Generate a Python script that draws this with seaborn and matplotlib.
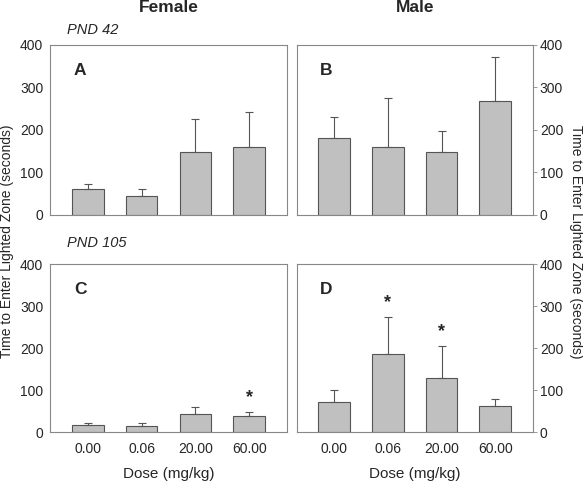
import pandas as pd
import matplotlib.pyplot as plt
import seaborn as sns
import numpy as np

# Dose groups and mean / SEM (seconds)
doses = ['0.00', '0.06', '20.00', '60.00']
female_42 = [60, 45, 147, 160]
female_42_err = [12, 15, 79, 82]
male_42 = [180, 160, 147, 268]
male_42_err = [50, 114, 51, 103]
female_105 = [17, 16, 44, 39]
female_105_err = [4, 6, 16, 9]
male_105 = [71, 186, 129, 62]
male_105_err = [29, 88, 77, 17]

# significance stars: panel -> dose indices
stars = {'C': [3], 'D': [1, 2]}

sns.set_style('white')
plt.rcParams['font.family'] = ['Liberation Sans', 'DejaVu Sans']

fig = plt.figure(figsize=(5.83, 4.83), dpi=100)
boxes = {
    'A': [0.086, 0.555, 0.406, 0.352],
    'B': [0.509, 0.555, 0.405, 0.352],
    'C': [0.086, 0.105, 0.406, 0.348],
    'D': [0.509, 0.105, 0.405, 0.348],
}
panels = {
    'A': (female_42, female_42_err),
    'B': (male_42, male_42_err),
    'C': (female_105, female_105_err),
    'D': (male_105, male_105_err),
}

edge = '#555555'
for name, (vals, errs) in panels.items():
    ax = fig.add_axes(boxes[name])
    df = pd.DataFrame({'Dose': doses, 'Time': vals})
    sns.barplot(data=df, x='Dose', y='Time', color='#c0c0c0', width=0.59,
                edgecolor=edge, linewidth=0.8, saturation=1, errorbar=None, ax=ax)
    ax.errorbar(np.arange(len(doses)), vals, yerr=[np.zeros(len(errs)), errs],
                fmt='none', ecolor=edge, elinewidth=0.8, capsize=3, capthick=0.8)
    for i in stars.get(name, []):
        ax.text(i, vals[i] + errs[i] + 14, '*', ha='center', va='bottom',
                fontsize=13, fontweight='bold')
    ax.set_xlim(-0.7, 3.7)
    ax.set_ylim(0, 400)
    ax.set_yticks([0, 100, 200, 300, 400])
    ax.set_xlabel('')
    ax.set_ylabel('')
    for s in ax.spines.values():
        s.set_color('#888888')
        s.set_linewidth(0.8)
    ax.tick_params(axis='both', direction='out', length=3, width=0.6,
                   color='#888888', labelsize=10, pad=2)
    if name in ('A', 'B'):
        ax.set_xticklabels([])
    else:
        ax.set_xlabel('Dose (mg/kg)', fontsize=11, labelpad=8)
        ax.tick_params(axis='x', pad=4)
    if name in ('B', 'D'):
        ax.yaxis.tick_right()
    ax.text(0.1, 0.85, name, transform=ax.transAxes, fontsize=12.5,
            fontweight='bold', ha='left', va='center')

fig.text(0.289, 0.985, 'Female', ha='center', va='center', fontsize=12.5, fontweight='bold')
fig.text(0.712, 0.985, 'Male', ha='center', va='center', fontsize=12.5, fontweight='bold')
fig.text(0.115, 0.938, 'PND 42', ha='left', va='center', fontsize=10.5, style='italic')
fig.text(0.115, 0.497, 'PND 105', ha='left', va='center', fontsize=10.5, style='italic')
fig.text(0.012, 0.5, 'Time to Enter Lighted Zone (seconds)', rotation=90,
         ha='center', va='center', fontsize=10)
fig.text(0.988, 0.5, 'Time to Enter Lighted Zone (seconds)', rotation=-90,
         ha='center', va='center', fontsize=10)

plt.savefig('out.png', dpi=100)
